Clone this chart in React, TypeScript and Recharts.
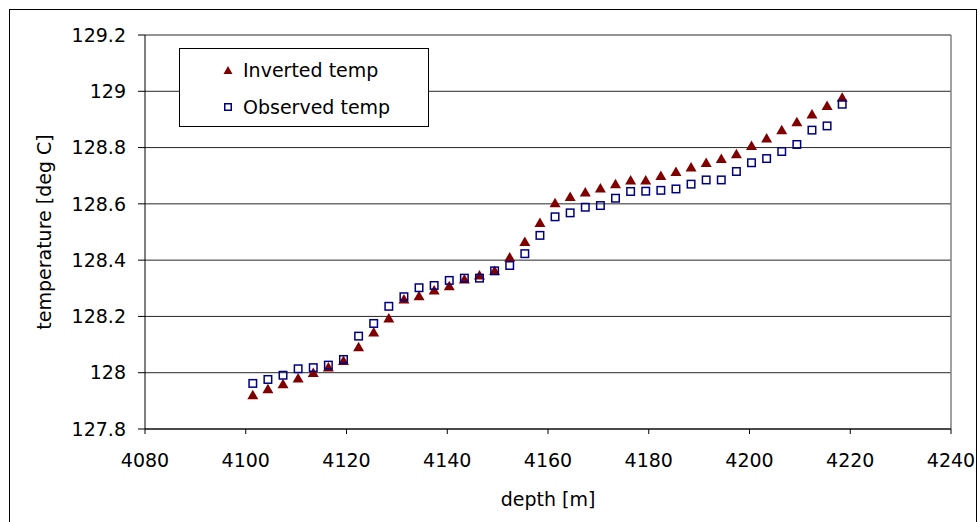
import { ScatterChart, Scatter, XAxis, YAxis, CartesianGrid, Legend, ReferenceLine } from "recharts";

const depths = [
  4101.4, 4104.4, 4107.4, 4110.4, 4113.4, 4116.4, 4119.4, 4122.4, 4125.4, 4128.4,
  4131.4, 4134.4, 4137.4, 4140.4, 4143.4, 4146.4, 4149.4, 4152.4, 4155.4, 4158.4,
  4161.4, 4164.4, 4167.4, 4170.4, 4173.4, 4176.4, 4179.4, 4182.4, 4185.4, 4188.4,
  4191.4, 4194.4, 4197.4, 4200.4, 4203.4, 4206.4, 4209.4, 4212.4, 4215.4, 4218.4,
];

const invertedTemp = [
  127.923, 127.944, 127.962, 127.982, 128.002, 128.021, 128.044, 128.093, 128.146, 128.195,
  128.263, 128.274, 128.295, 128.31, 128.334, 128.348, 128.364, 128.412, 128.467, 128.535,
  128.605, 128.627, 128.643, 128.657, 128.672, 128.686, 128.686, 128.702, 128.716, 128.732,
  128.748, 128.762, 128.779, 128.808, 128.835, 128.864, 128.893, 128.92, 128.95, 128.98,
];

const observedTemp = [
  127.962, 127.976, 127.991, 128.014, 128.018, 128.027, 128.047, 128.13, 128.175, 128.236,
  128.27, 128.302, 128.31, 128.328, 128.336, 128.336, 128.362, 128.381, 128.423, 128.488,
  128.554, 128.568, 128.588, 128.594, 128.62, 128.644, 128.645, 128.648, 128.653, 128.67,
  128.685, 128.685, 128.715, 128.746, 128.761, 128.786, 128.811, 128.862, 128.877, 128.954,
];

const depthTicks = [4080, 4100, 4120, 4140, 4160, 4180, 4200, 4220, 4240];
const tempTicks = [127.8, 128, 128.2, 128.4, 128.6, 128.8, 129, 129.2];

const FONT = "'DejaVu Sans', sans-serif";
const RED = "#800000";
const BLUE = "#000080";

const inverted = depths.map((d, i) => ({ depth: d, temp: invertedTemp[i] }));
const observed = depths.map((d, i) => ({ depth: d, temp: observedTemp[i] }));

const Triangle = ({ cx, cy, w = 11, h = 9.5 }: any) => (
  <polygon
    points={`${cx},${cy - h / 2} ${cx + w / 2},${cy + h / 2} ${cx - w / 2},${cy + h / 2}`}
    fill={RED}
  />
);

const Square = ({ cx, cy, s = 7.5 }: any) => (
  <rect x={cx - s / 2} y={cy - s / 2} width={s} height={s} fill="none" stroke={BLUE} strokeWidth={1.5} />
);

const LegendBox = () => (
  <div
    style={{
      width: 248,
      height: 77,
      border: "1px solid #000",
      background: "#fff",
      position: "relative",
      fontFamily: FONT,
      fontSize: 19,
      color: "#000",
    }}
  >
    <svg width={20} height={77} style={{ position: "absolute", left: 39, top: 0 }}>
      <Triangle cx={9} cy={21} w={9} h={8} />
      <Square cx={9} cy={58} s={6.5} />
    </svg>
    <div style={{ position: "absolute", left: 63, top: 10, lineHeight: "22px" }}>Inverted temp</div>
    <div style={{ position: "absolute", left: 63, top: 47, lineHeight: "22px" }}>Observed temp</div>
  </div>
);

export default function App() {
  return (
    <div
      style={{
        position: "fixed",
        left: 0,
        top: 0,
        width: 979,
        height: 522,
        overflow: "hidden",
        background: "#fff",
        fontFamily: FONT,
      }}
    >
      <div
        style={{
          position: "absolute",
          left: 9,
          top: 9,
          width: 966,
          height: 600,
          border: "1px solid #000",
        }}
      />
      <ScatterChart width={979} height={522} margin={{ top: 35, right: 28, bottom: 33, left: 0 }}>
        <CartesianGrid vertical={false} stroke="#000" strokeOpacity={0.85} />
        <XAxis
          type="number"
          dataKey="depth"
          domain={[4080, 4240]}
          ticks={depthTicks}
          interval={0}
          height={60}
          tickSize={5}
          tickMargin={20}
          axisLine={{ stroke: "#000" }}
          tickLine={{ stroke: "#000" }}
          tick={{ fill: "#000", fontSize: 19, fontFamily: FONT }}
          label={{
            content: () => (
              <text x={548} y={506} textAnchor="middle" fontSize={19} fontFamily={FONT} fill="#000">
                depth [m]
              </text>
            ),
          }}
        />
        <YAxis
          type="number"
          dataKey="temp"
          domain={[127.8, 129.2]}
          ticks={tempTicks}
          interval={0}
          width={145}
          tickSize={7}
          tickMargin={12}
          tickFormatter={(v: number) => String(Number(v.toFixed(1)))}
          axisLine={{ stroke: "#000" }}
          tickLine={{ stroke: "#000" }}
          tick={{ fill: "#000", fontSize: 19, fontFamily: FONT }}
          label={{
            content: () => (
              <text
                x={51}
                y={232}
                transform="rotate(-90 51 232)"
                textAnchor="middle"
                fontSize={19}
                fontFamily={FONT}
                fill="#000"
              >
                temperature [deg C]
              </text>
            ),
          }}
        />
        <ReferenceLine x={4240} stroke="#808080" strokeWidth={1.5} />
        <Legend
          layout="vertical"
          align="center"
          verticalAlign="middle"
          content={() => <LegendBox />}
          wrapperStyle={{ left: 179, top: 48, width: 250, height: 79 }}
        />
        <Scatter name="Inverted temp" data={inverted} shape={<Triangle />} isAnimationActive={false} />
        <Scatter name="Observed temp" data={observed} shape={<Square />} isAnimationActive={false} />
      </ScatterChart>
    </div>
  );
}
